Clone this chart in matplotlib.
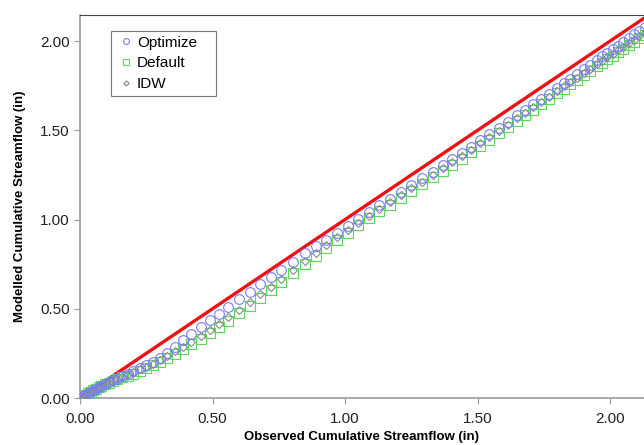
import matplotlib
matplotlib.use("Agg")
import matplotlib.pyplot as plt
from matplotlib.ticker import FormatStrFormatter

plt.rcParams['font.family'] = ['Liberation Sans', 'DejaVu Sans']

# observed cumulative streamflow (in)
observed = [0.000, 0.010, 0.020, 0.030, 0.040, 0.050, 0.060, 0.070, 0.080, 0.095,
            0.110, 0.125, 0.140, 0.160, 0.180, 0.200, 0.225, 0.250, 0.275, 0.300,
            0.330, 0.360, 0.390, 0.420, 0.455, 0.490, 0.525, 0.560, 0.600, 0.640,
            0.680, 0.720, 0.760, 0.805, 0.850, 0.890, 0.930, 0.970, 1.010, 1.050,
            1.090, 1.130, 1.170, 1.210, 1.250, 1.290, 1.330, 1.370, 1.405, 1.440,
            1.475, 1.510, 1.545, 1.580, 1.615, 1.650, 1.680, 1.710, 1.740, 1.770,
            1.800, 1.825, 1.850, 1.875, 1.900, 1.925, 1.950, 1.970, 1.990, 2.010,
            2.030, 2.050, 2.070, 2.090, 2.110, 2.130, 2.150]

# modelled cumulative streamflow (in)
optimize = [0.000, 0.009, 0.018, 0.027, 0.036, 0.044, 0.052, 0.060, 0.067, 0.078,
            0.089, 0.099, 0.109, 0.122, 0.135, 0.149, 0.166, 0.184, 0.204, 0.225,
            0.254, 0.288, 0.324, 0.360, 0.398, 0.435, 0.472, 0.510, 0.552, 0.594,
            0.636, 0.677, 0.718, 0.764, 0.810, 0.849, 0.888, 0.927, 0.965, 1.003,
            1.041, 1.079, 1.117, 1.155, 1.193, 1.231, 1.269, 1.307, 1.341, 1.375,
            1.409, 1.443, 1.478, 1.514, 1.549, 1.584, 1.615, 1.645, 1.676, 1.706,
            1.737, 1.763, 1.789, 1.815, 1.841, 1.867, 1.893, 1.914, 1.935, 1.955,
            1.975, 1.996, 2.016, 2.037, 2.057, 2.078, 2.098]

default = [0.000, 0.010, 0.019, 0.028, 0.036, 0.044, 0.052, 0.059, 0.066, 0.076,
           0.086, 0.095, 0.104, 0.115, 0.126, 0.137, 0.152, 0.167, 0.183, 0.200,
           0.223, 0.248, 0.273, 0.300, 0.332, 0.365, 0.399, 0.434, 0.474, 0.518,
           0.561, 0.605, 0.650, 0.700, 0.752, 0.797, 0.842, 0.885, 0.927, 0.967,
           1.006, 1.045, 1.083, 1.122, 1.160, 1.198, 1.236, 1.274, 1.307, 1.341,
           1.376, 1.412, 1.447, 1.483, 1.518, 1.553, 1.586, 1.616, 1.646, 1.676,
           1.710, 1.734, 1.758, 1.783, 1.809, 1.833, 1.858, 1.877, 1.897, 1.917,
           1.937, 1.957, 1.977, 1.997, 2.017, 2.036, 2.056]

idw = [0.000, 0.010, 0.019, 0.028, 0.037, 0.045, 0.053, 0.060, 0.068, 0.079,
       0.089, 0.099, 0.109, 0.120, 0.132, 0.144, 0.160, 0.176, 0.193, 0.211,
       0.235, 0.261, 0.287, 0.314, 0.347, 0.381, 0.416, 0.452, 0.493, 0.536,
       0.580, 0.624, 0.669, 0.720, 0.770, 0.814, 0.858, 0.900, 0.942, 0.982,
       1.021, 1.060, 1.098, 1.137, 1.175, 1.213, 1.251, 1.289, 1.322, 1.356,
       1.391, 1.426, 1.461, 1.497, 1.532, 1.567, 1.599, 1.629, 1.659, 1.689,
       1.722, 1.746, 1.770, 1.795, 1.820, 1.844, 1.869, 1.888, 1.908, 1.928,
       1.948, 1.968, 1.988, 2.008, 2.028, 2.047, 2.067]

one_to_one = [0.0, 2.3]

fig = plt.figure(figsize=(6.44, 4.45), dpi=100)
ax = fig.add_axes([80 / 644, 1 - 398 / 445, 1 - 80 / 644, (398 - 15) / 445])

ax.plot(one_to_one, one_to_one, color='#ee1111', lw=2.4, zorder=2)
ax.plot(observed, default, ls='none', marker='s', ms=6.5, mfc='none',
        mec='#55dd55', mew=0.8, label='Default', zorder=3)
ax.plot(observed, idw, ls='none', marker='D', ms=4.5, mfc='none',
        mec='#8a8a8a', mew=0.8, label='IDW', zorder=4)
ax.plot(observed, optimize, ls='none', marker='o', ms=7, mfc='none',
        mec='#7a7aff', mew=0.8, label='Optimize', zorder=5)

ax.set_xlim(0, 2.128)
ax.set_ylim(0, 2.146)
ax.set_xticks([0, 0.5, 1.0, 1.5, 2.0])
ax.set_yticks([0, 0.5, 1.0, 1.5, 2.0])
ax.xaxis.set_major_formatter(FormatStrFormatter('%.2f'))
ax.yaxis.set_major_formatter(FormatStrFormatter('%.2f'))
ax.tick_params(direction='out', length=4, color='#999999', labelsize=11,
               labelcolor='#222222')
ax.tick_params(axis='x', pad=6)
for side in ['left', 'bottom']:
    ax.spines[side].set_color('#999999')
    ax.spines[side].set_linewidth(1.2)
ax.spines['top'].set_color('#444444')
ax.spines['top'].set_linewidth(0.8)
ax.spines['right'].set_visible(False)

ax.set_xlabel('Observed Cumulative Streamflow (in)', fontsize=9.5,
              fontweight='bold', labelpad=4)
ax.set_ylabel('Modelled Cumulative Streamflow (in)', fontsize=9.5,
              fontweight='bold', labelpad=10)

# legend box stretched to the width seen in the original
handles, labels = ax.get_legend_handles_labels()
order = [2, 0, 1]
leg = ax.legend([handles[i] for i in order], [labels[i] for i in order],
                loc='upper left', mode='expand',
                bbox_to_anchor=(111 / 644, 1 - 95 / 445, 105 / 644, 64 / 445),
                bbox_transform=fig.transFigure, fontsize=11, frameon=True,
                fancybox=False, handlelength=1.3, handletextpad=0.1,
                borderpad=0.3, labelspacing=0.45, markerscale=0.6,
                borderaxespad=0)
leg.get_frame().set_edgecolor('#555555')
leg.get_frame().set_linewidth(0.8)

fig.savefig('out.png', dpi=100)
